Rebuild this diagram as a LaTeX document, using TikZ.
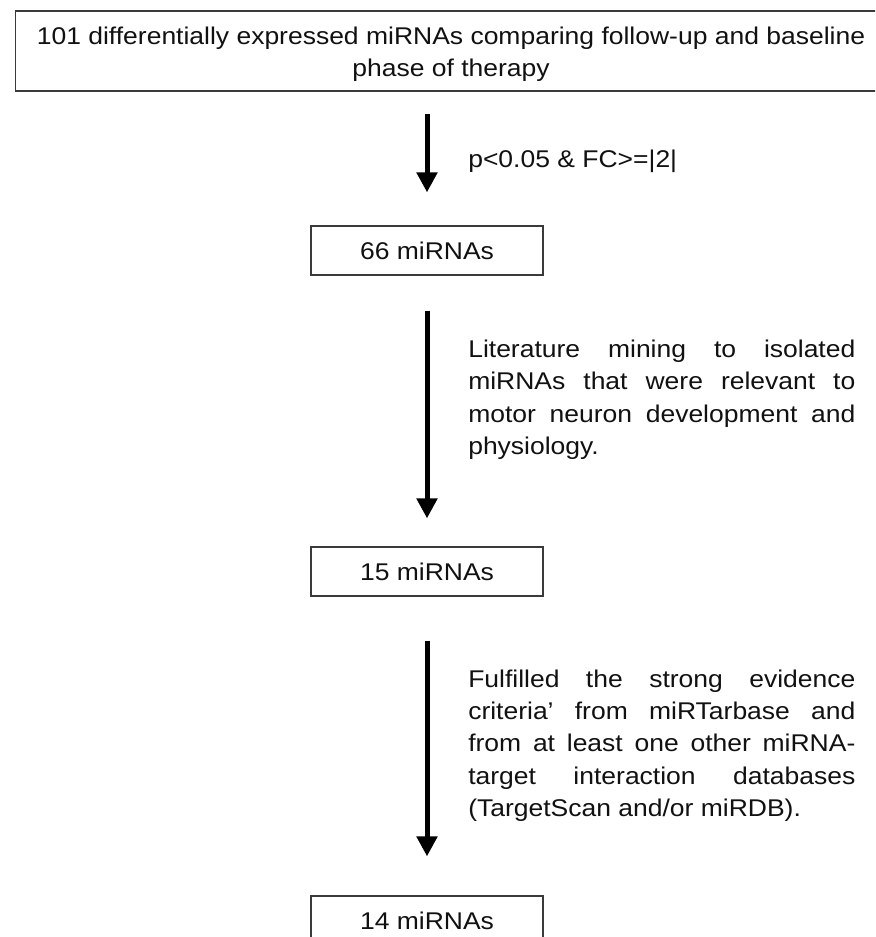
\documentclass[tikz,border=0pt]{standalone}
\usepackage{fontspec}
\setmainfont{Liberation Sans}[FakeStretch=1.095]
\usetikzlibrary{arrows.meta,positioning}
\definecolor{ink}{HTML}{111111}
\definecolor{frame}{HTML}{3A3A3A}
\tikzset{
  stagebox/.style={draw=frame,line width=0.03cm,fill=white,text=ink,
    minimum width=5.8cm,minimum height=1.225cm,inner sep=0pt},
  headbox/.style={draw=frame,line width=0.03cm,fill=white,text=ink,align=center,
    minimum width=21.75cm,minimum height=2cm,inner sep=0pt},
  filtertext/.style={anchor=north west,text=ink,inner sep=0pt,text width=9.675cm,
    align=justify,execute at begin node={\tolerance=10000\hyphenpenalty=10000}},
  flow/.style={-{Triangle[width=0.5cm,length=0.5cm]},line width=0.125cm,draw=black},
}

\begin{document}
\begin{tikzpicture}[x=0.025cm,y=-0.025cm,font=\fontsize{17.2pt}{22.98pt}\selectfont]
  \clip (0,0) rectangle (875,937);
  \fill[white] (0,0) rectangle (875,937);
  % selection stages
  \node[headbox] (top) at (451,51)
     {\rule{0pt}{0.6cm}101 differentially expressed miRNAs comparing follow-up and baseline\\phase of therapy};
  \node[stagebox] (m66) at (427,250.5) {66 miRNAs};
  \node[stagebox] (m15) at (427,571.5) {15 miRNAs};
  \node[stagebox] (m14) at (427,920.5) {14 miRNAs};
  % filter steps
  \draw[flow,shorten <=0.55cm,shorten >=0.825cm] (m66.north |- top.south) -- (m66.north);
  \draw[flow,shorten <=0.875cm,shorten >=0.7cm] (m66.south) -- (m15.north);
  \draw[flow,shorten <=1.1cm,shorten >=0.975cm] (m15.south) -- (m14.north);
  \node[anchor=base west,text=ink,inner sep=0pt] (crit1) at (468,168) {p<0.05 \& FC>=|2|};
  \node[filtertext] (crit2) at (468,339.6)
     {Literature mining to isolated\linebreak miRNAs that were relevant to\linebreak
      motor neuron development and\linebreak physiology.};
  \node[filtertext] (crit3) at (468,669.5)
     {Fulfilled the strong evidence\linebreak criteria’ from miRTarbase and\linebreak
      from at least one other miRNA-\linebreak target interaction databases\linebreak
      (TargetScan and/or miRDB).};
\end{tikzpicture}
\end{document}
